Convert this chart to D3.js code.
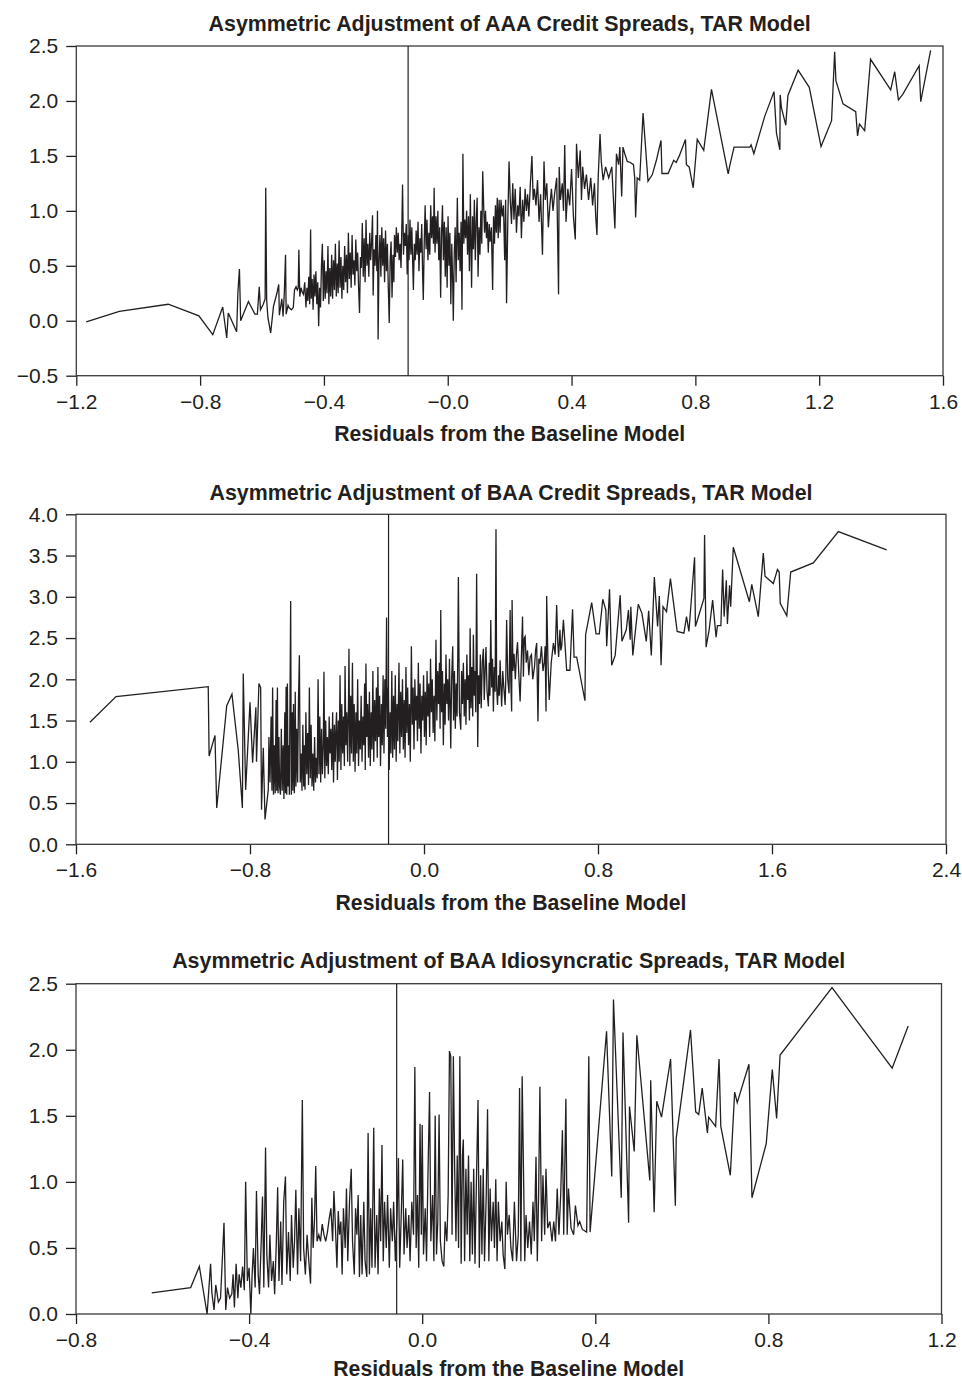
<!DOCTYPE html>
<html>
<head>
<meta charset="utf-8">
<script src="https://cdn.jsdelivr.net/npm/d3@7"></script>
<style>
  body { margin: 0; background: #fff; }
  svg text { font-family: "Liberation Sans", Arial, Helvetica, sans-serif; fill: #231f20; }
</style>
</head>
<body>
<div id="chart"></div>
<script>
const WIDTH = 962;
const HEIGHT = 1382;

// [residual, spread] pairs, sorted by residual
const aaaPoints = [
  [-1.168,-0.01],[-1.061,0.085],[-0.903,0.15],[-0.804,0.045],[-0.759,-0.127],[-0.727,0.125],[-0.714,-0.157],[-0.709,0.07],
  [-0.682,-0.10],[-0.678,0.255],[-0.673,0.47],[-0.669,0.0],[-0.644,0.175],[-0.623,0.06],[-0.615,0.06],[-0.609,0.31],
  [-0.605,0.10],[-0.596,0.15],[-0.590,0.20],[-0.588,1.21],[-0.585,0.19],[-0.581,0.03],[-0.572,-0.11],[-0.563,0.13],
  [-0.552,0.25],[-0.546,0.33],[-0.544,0.05],[-0.536,0.20],[-0.532,0.04],[-0.528,0.25],[-0.524,0.60],[-0.522,0.06],
  [-0.516,0.14],[-0.513,0.12],[-0.505,0.10],[-0.499,0.12],[-0.495,0.28],[-0.490,0.31],[-0.486,0.28],[-0.483,0.30],
  [-0.481,0.645],[-0.478,0.22],[-0.474,0.30],[-0.470,0.26],[-0.466,0.24],[-0.462,0.35],[-0.458,0.12],[-0.455,0.30],
  [-0.452,0.18],[-0.449,0.40],[-0.446,0.15],[-0.443,0.83],[-0.441,0.20],[-0.438,0.38],[-0.435,0.10],[-0.432,0.42],
  [-0.429,0.22],[-0.426,0.45],[-0.423,0.15],[-0.420,0.35],[-0.417,-0.05],[-0.414,0.30],[-0.411,0.12],[-0.408,0.50],
  [-0.405,0.70],[-0.402,0.18],[-0.399,0.55],[-0.396,0.20],[-0.393,0.45],[-0.390,0.25],[-0.387,0.68],[-0.384,0.15],
  [-0.381,0.48],[-0.378,0.22],[-0.375,0.60],[-0.372,0.20],[-0.369,0.55],[-0.366,0.28],[-0.363,0.70],[-0.360,0.22],
  [-0.357,0.52],[-0.354,0.25],[-0.351,0.73],[-0.348,0.30],[-0.345,0.58],[-0.342,0.20],[-0.339,0.50],[-0.336,0.28],
  [-0.333,0.68],[-0.330,0.35],[-0.327,0.60],[-0.324,0.25],[-0.321,0.80],[-0.318,0.38],[-0.315,0.62],[-0.312,0.30],
  [-0.309,0.78],[-0.306,0.42],[-0.303,0.55],[-0.300,0.32],[-0.297,0.74],[-0.294,0.45],[-0.291,0.62],[-0.288,0.30],
  [-0.285,0.07],[-0.282,0.58],[-0.279,0.48],[-0.276,0.89],[-0.273,0.40],[-0.270,0.75],[-0.267,0.35],[-0.264,0.92],
  [-0.261,0.50],[-0.258,0.70],[-0.255,0.40],[-0.252,0.80],[-0.249,0.55],[-0.246,0.72],[-0.243,0.96],[-0.241,0.23],
  [-0.238,0.65],[-0.235,0.50],[-0.232,0.78],[-0.229,0.45],[-0.227,1.00],[-0.225,-0.17],[-0.222,0.55],[-0.219,0.78],
  [-0.216,0.40],[-0.213,0.85],[-0.210,0.50],[-0.207,0.75],[-0.204,0.35],[-0.201,0.82],[-0.198,0.45],[-0.195,0.70],
  [-0.192,0.30],[-0.189,-0.02],[-0.186,0.55],[-0.183,0.72],[-0.180,0.21],[-0.177,0.60],[-0.174,0.35],[-0.172,0.78],
  [-0.169,0.58],[-0.166,0.85],[-0.163,0.62],[-0.160,0.80],[-0.157,0.55],[-0.154,0.70],[-0.151,0.48],[-0.148,0.90],
  [-0.146,1.24],[-0.143,0.60],[-0.140,0.80],[-0.137,0.68],[-0.134,0.88],[-0.131,0.42],[-0.128,0.78],[-0.125,0.55],
  [-0.122,0.92],[-0.119,0.60],[-0.116,0.85],[-0.113,0.50],[-0.111,0.28],[-0.108,0.70],[-0.105,0.55],[-0.102,0.82],
  [-0.099,0.60],[-0.096,0.90],[-0.093,0.45],[-0.090,0.75],[-0.087,0.62],[-0.084,0.88],[-0.081,0.40],[-0.079,0.19],
  [-0.076,0.70],[-0.073,1.05],[-0.070,0.65],[-0.067,0.92],[-0.064,0.55],[-0.061,0.80],[-0.058,0.60],[-0.055,1.05],
  [-0.052,0.75],[-0.049,0.95],[-0.046,0.70],[-0.044,1.21],[-0.041,0.62],[-0.038,0.95],[-0.035,0.70],[-0.032,1.00],
  [-0.029,0.55],[-0.026,0.85],[-0.023,0.21],[-0.020,0.80],[-0.017,1.05],[-0.014,0.55],[-0.011,0.90],[-0.008,0.40],
  [-0.005,0.85],[-0.002,0.30],[0.001,0.95],[0.004,0.50],[0.007,0.80],[0.010,0.15],[0.013,0.70],[0.016,0.35],
  [0.018,0.00],[0.021,0.60],[0.024,0.85],[0.027,0.35],[0.031,1.12],[0.034,0.55],[0.037,0.80],[0.040,0.45],
  [0.043,0.90],[0.046,0.10],[0.049,1.52],[0.052,0.70],[0.055,0.92],[0.058,0.75],[0.061,1.00],[0.064,0.60],
  [0.067,0.95],[0.070,0.45],[0.073,1.15],[0.077,0.30],[0.080,0.95],[0.083,0.65],[0.086,1.10],[0.089,0.55],
  [0.092,0.90],[0.095,1.12],[0.098,0.40],[0.101,0.85],[0.104,0.60],[0.107,1.00],[0.110,0.70],[0.113,1.36],
  [0.116,1.05],[0.119,0.80],[0.122,1.00],[0.125,0.75],[0.128,0.90],[0.131,0.62],[0.134,0.88],[0.137,0.72],
  [0.141,0.85],[0.145,0.28],[0.148,0.95],[0.151,0.70],[0.154,1.05],[0.157,0.80],[0.160,1.12],[0.163,0.75],
  [0.166,1.10],[0.169,0.80],[0.172,1.10],[0.176,0.95],[0.180,1.05],[0.184,0.55],[0.187,1.10],[0.190,0.16],
  [0.194,0.90],[0.198,1.45],[0.202,1.10],[0.206,0.88],[0.210,1.25],[0.214,0.92],[0.218,1.20],[0.222,0.80],
  [0.226,1.05],[0.230,0.95],[0.234,1.22],[0.238,0.75],[0.242,1.10],[0.246,0.90],[0.250,1.20],[0.254,1.00],
  [0.258,1.15],[0.262,0.95],[0.267,1.25],[0.272,1.50],[0.276,1.10],[0.280,1.20],[0.285,1.05],[0.290,1.28],
  [0.295,0.90],[0.300,1.15],[0.306,0.60],[0.311,1.45],[0.315,1.10],[0.320,1.25],[0.325,0.85],[0.330,1.05],
  [0.335,1.20],[0.340,1.00],[0.345,1.15],[0.352,1.30],[0.358,0.24],[0.360,1.40],[0.364,1.10],[0.370,1.25],
  [0.374,1.00],[0.378,1.60],[0.382,0.90],[0.388,1.20],[0.394,1.05],[0.400,1.38],[0.406,0.95],[0.412,0.74],
  [0.416,1.61],[0.422,1.30],[0.428,1.55],[0.432,1.10],[0.436,1.40],[0.442,1.20],[0.448,1.33],[0.455,1.10],
  [0.462,1.30],[0.468,1.05],[0.474,1.25],[0.478,0.95],[0.482,0.78],[0.486,1.30],[0.492,1.70],[0.496,1.45],
  [0.502,1.28],[0.510,1.40],[0.520,1.30],[0.530,1.40],[0.540,0.84],[0.545,1.52],[0.552,1.42],[0.556,1.58],
  [0.562,1.13],[0.566,1.58],[0.572,1.52],[0.580,1.45],[0.590,1.44],[0.600,1.42],[0.604,1.30],[0.607,0.94],
  [0.612,1.30],[0.620,1.28],[0.631,1.89],[0.647,1.27],[0.661,1.33],[0.674,1.46],[0.689,1.64],[0.692,1.34],
  [0.712,1.34],[0.730,1.46],[0.738,1.44],[0.748,1.50],[0.768,1.65],[0.771,1.42],[0.780,1.40],[0.793,1.21],
  [0.806,1.65],[0.827,1.55],[0.852,2.106],[0.906,1.336],[0.911,1.41],[0.925,1.58],[0.976,1.58],[0.980,1.60],
  [0.989,1.52],[1.024,1.86],[1.054,2.085],[1.062,1.706],[1.073,1.555],[1.074,2.055],[1.078,1.94],[1.092,1.78],
  [1.099,2.05],[1.132,2.28],[1.168,2.124],[1.206,1.585],[1.240,1.82],[1.250,2.448],[1.254,2.185],[1.277,1.973],
  [1.318,1.903],[1.324,1.682],[1.330,1.79],[1.347,1.73],[1.366,2.379],[1.431,2.10],[1.444,2.266],[1.456,2.01],
  [1.470,2.06],[1.523,2.32],[1.528,1.994],[1.560,2.46]
];

const baaPoints = [
  [-1.536,1.48],[-1.416,1.79],[-0.992,1.91],[-0.988,1.07],[-0.961,1.32],[-0.953,0.44],[-0.907,1.68],[-0.883,1.82],
  [-0.854,1.14],[-0.835,0.44],[-0.831,2.07],[-0.820,0.66],[-0.800,1.72],[-0.788,0.99],[-0.773,1.66],[-0.770,1.00],
  [-0.759,1.95],[-0.751,1.90],[-0.747,0.42],[-0.739,1.17],[-0.731,0.30],[-0.716,0.66],[-0.713,1.30],[-0.708,0.75],
  [-0.703,1.55],[-0.699,0.65],[-0.696,1.90],[-0.692,0.60],[-0.688,1.20],[-0.684,0.62],[-0.680,1.75],[-0.677,0.65],
  [-0.674,1.90],[-0.671,0.62],[-0.667,1.30],[-0.664,0.70],[-0.660,0.60],[-0.656,1.40],[-0.652,0.65],[-0.648,1.20],
  [-0.644,0.55],[-0.640,1.60],[-0.637,0.62],[-0.634,1.91],[-0.631,0.60],[-0.628,1.95],[-0.625,0.70],[-0.622,1.20],
  [-0.619,0.60],[-0.616,1.80],[-0.613,2.95],[-0.610,0.60],[-0.606,1.60],[-0.603,0.65],[-0.600,1.70],[-0.596,0.62],
  [-0.592,1.85],[-0.589,0.70],[-0.585,1.40],[-0.581,0.75],[-0.577,1.75],[-0.573,2.29],[-0.569,0.75],[-0.565,1.10],
  [-0.561,0.65],[-0.557,1.45],[-0.553,0.70],[-0.550,1.20],[-0.547,0.66],[-0.543,1.60],[-0.539,0.85],[-0.535,1.35],
  [-0.531,0.72],[-0.527,1.90],[-0.523,0.80],[-0.519,1.45],[-0.515,0.70],[-0.511,1.10],[-0.507,0.65],[-0.503,1.30],
  [-0.499,0.75],[-0.495,1.05],[-0.491,0.80],[-0.487,2.00],[-0.483,0.85],[-0.479,1.55],[-0.475,0.75],[-0.471,1.40],
  [-0.467,0.85],[-0.463,1.20],[-0.460,2.09],[-0.456,0.80],[-0.452,1.50],[-0.448,0.95],[-0.444,1.30],[-0.440,0.85],
  [-0.436,1.55],[-0.432,1.10],[-0.428,1.40],[-0.424,0.90],[-0.420,1.60],[-0.416,0.75],[-0.412,1.45],[-0.408,1.00],
  [-0.404,1.48],[-0.402,1.60],[-0.398,0.78],[-0.394,1.50],[-0.390,1.00],[-0.386,2.05],[-0.382,0.90],[-0.378,1.70],
  [-0.374,1.10],[-0.370,1.55],[-0.366,0.95],[-0.363,2.16],[-0.359,1.20],[-0.355,1.60],[-0.351,1.00],[-0.347,1.75],
  [-0.345,2.37],[-0.341,0.95],[-0.337,1.80],[-0.333,1.10],[-0.329,2.20],[-0.325,1.00],[-0.321,1.70],[-0.317,0.88],
  [-0.313,1.60],[-0.309,1.10],[-0.305,2.00],[-0.301,0.95],[-0.297,1.50],[-0.293,1.15],[-0.289,1.80],[-0.285,1.00],
  [-0.281,1.55],[-0.277,1.20],[-0.273,1.95],[-0.270,0.90],[-0.267,2.19],[-0.263,1.30],[-0.259,1.70],[-0.255,1.05],
  [-0.251,1.85],[-0.247,0.95],[-0.243,1.60],[-0.239,1.15],[-0.235,2.10],[-0.231,1.00],[-0.227,1.75],[-0.223,1.25],
  [-0.219,1.90],[-0.215,1.05],[-0.212,2.15],[-0.208,1.30],[-0.204,1.80],[-0.200,0.95],[-0.196,1.70],[-0.192,1.20],
  [-0.188,2.05],[-0.184,1.10],[-0.180,2.00],[-0.176,1.40],[-0.172,2.75],[-0.168,1.30],[-0.164,1.90],[-0.160,0.90],
  [-0.156,1.60],[-0.152,1.10],[-0.148,2.10],[-0.144,1.05],[-0.140,1.80],[-0.136,1.15],[-0.132,2.05],[-0.128,1.00],
  [-0.124,1.70],[-0.120,1.25],[-0.115,2.20],[-0.111,1.10],[-0.107,1.85],[-0.103,1.30],[-0.099,2.00],[-0.095,1.15],
  [-0.091,1.75],[-0.087,1.05],[-0.083,2.15],[-0.079,1.35],[-0.075,1.90],[-0.071,1.20],[-0.067,1.70],[-0.063,1.00],
  [-0.058,2.40],[-0.054,1.45],[-0.050,1.90],[-0.046,1.15],[-0.042,2.00],[-0.038,1.50],[-0.034,1.80],[-0.030,1.25],
  [-0.026,2.20],[-0.022,1.40],[-0.018,1.95],[-0.014,1.10],[-0.010,1.80],[-0.006,1.50],[-0.002,2.05],[0.002,1.30],
  [0.006,1.85],[0.010,1.20],[0.014,2.10],[0.018,1.55],[0.022,1.95],[0.026,1.30],[0.030,2.25],[0.034,1.60],
  [0.038,2.00],[0.042,1.35],[0.046,1.80],[0.050,1.25],[0.055,2.48],[0.059,1.50],[0.063,2.10],[0.067,1.70],
  [0.071,2.20],[0.074,1.40],[0.077,2.84],[0.081,1.60],[0.085,2.10],[0.089,1.20],[0.093,1.95],[0.097,1.45],
  [0.101,2.30],[0.105,1.70],[0.109,2.00],[0.113,1.50],[0.117,2.25],[0.123,1.16],[0.127,2.00],[0.132,2.40],
  [0.136,1.50],[0.140,2.10],[0.144,1.40],[0.148,1.95],[0.152,1.55],[0.155,2.20],[0.158,3.24],[0.163,1.60],
  [0.169,1.39],[0.173,2.10],[0.177,1.70],[0.181,2.20],[0.185,1.55],[0.189,2.00],[0.193,1.45],[0.197,2.30],
  [0.201,1.75],[0.205,2.05],[0.209,1.50],[0.212,2.62],[0.216,1.65],[0.220,2.15],[0.224,1.55],[0.227,2.54],
  [0.231,1.80],[0.235,2.10],[0.238,1.60],[0.242,3.28],[0.247,1.18],[0.251,2.05],[0.255,1.70],[0.259,2.30],
  [0.263,1.65],[0.268,2.20],[0.273,2.37],[0.277,1.75],[0.281,2.10],[0.285,2.39],[0.290,1.85],[0.296,1.67],
  [0.300,2.20],[0.303,1.80],[0.307,2.72],[0.311,1.90],[0.315,2.25],[0.319,1.61],[0.323,2.15],[0.327,1.85],
  [0.331,3.82],[0.334,1.90],[0.338,1.69],[0.343,2.05],[0.346,1.80],[0.350,2.23],[0.353,1.95],[0.357,1.67],
  [0.362,2.10],[0.367,1.90],[0.373,1.69],[0.376,2.00],[0.380,2.72],[0.385,2.00],[0.391,1.83],[0.396,2.84],
  [0.399,2.00],[0.403,1.61],[0.405,2.96],[0.409,2.10],[0.414,2.31],[0.420,2.00],[0.425,2.30],[0.430,2.45],
  [0.436,2.05],[0.442,1.73],[0.447,2.20],[0.453,2.76],[0.457,2.03],[0.461,2.50],[0.465,2.52],[0.470,2.20],
  [0.476,2.35],[0.482,2.05],[0.488,2.27],[0.494,2.30],[0.500,2.00],[0.508,2.15],[0.513,2.35],[0.518,2.44],
  [0.524,1.49],[0.528,2.25],[0.533,2.19],[0.540,2.40],[0.547,2.10],[0.553,2.21],[0.557,2.40],[0.561,1.61],
  [0.564,3.01],[0.570,2.20],[0.576,1.75],[0.585,2.20],[0.595,2.44],[0.603,2.30],[0.610,2.90],[0.615,2.45],
  [0.619,2.27],[0.625,2.60],[0.629,2.35],[0.633,2.40],[0.641,2.72],[0.656,2.11],[0.671,2.11],[0.683,2.85],
  [0.690,2.27],[0.702,2.27],[0.740,1.74],[0.743,2.54],[0.756,2.72],[0.771,2.93],[0.782,2.72],[0.791,2.55],
  [0.806,2.55],[0.822,2.97],[0.836,2.84],[0.840,2.40],[0.853,3.09],[0.863,2.17],[0.879,2.29],[0.902,3.02],
  [0.910,2.46],[0.930,2.60],[0.940,2.84],[0.948,2.48],[0.951,2.88],[0.960,2.29],[0.985,2.91],[1.002,2.80],
  [1.022,2.46],[1.033,2.83],[1.045,2.29],[1.059,3.24],[1.074,2.64],[1.082,3.01],[1.090,2.17],[1.099,2.88],
  [1.115,2.82],[1.133,3.22],[1.164,2.58],[1.195,2.56],[1.207,2.76],[1.218,2.58],[1.244,3.48],[1.248,2.64],
  [1.287,2.98],[1.290,3.75],[1.297,2.39],[1.311,2.60],[1.327,2.96],[1.343,2.51],[1.349,2.65],[1.365,2.65],
  [1.373,3.33],[1.380,2.76],[1.390,3.20],[1.395,2.67],[1.405,3.14],[1.410,2.88],[1.422,3.60],[1.496,2.94],
  [1.507,3.15],[1.537,2.76],[1.560,3.53],[1.568,3.25],[1.606,3.16],[1.625,3.33],[1.633,3.30],[1.638,2.92],
  [1.668,2.77],[1.686,3.30],[1.790,3.41],[1.905,3.79],[2.127,3.57]
];

const idioPoints = [
  [-0.625,0.16],[-0.535,0.20],[-0.515,0.36],[-0.497,0.00],[-0.489,0.38],[-0.486,0.16],[-0.481,0.03],[-0.477,0.22],
  [-0.471,0.09],[-0.466,0.12],[-0.458,0.69],[-0.454,0.03],[-0.450,0.20],[-0.445,0.12],[-0.440,0.15],[-0.437,0.30],
  [-0.434,0.05],[-0.430,0.38],[-0.426,0.12],[-0.423,0.30],[-0.419,0.20],[-0.415,0.36],[-0.411,0.18],[-0.408,1.00],
  [-0.404,0.25],[-0.400,0.35],[-0.396,0.00],[-0.393,0.30],[-0.390,0.50],[-0.386,0.20],[-0.383,0.93],[-0.379,0.30],
  [-0.376,0.15],[-0.372,0.55],[-0.369,0.89],[-0.366,0.20],[-0.362,1.26],[-0.359,0.45],[-0.355,0.20],[-0.352,0.60],
  [-0.348,0.25],[-0.344,0.40],[-0.341,0.15],[-0.337,0.55],[-0.334,0.96],[-0.331,0.25],[-0.327,0.70],[-0.324,0.22],
  [-0.320,0.85],[-0.316,1.04],[-0.313,0.30],[-0.309,0.62],[-0.305,0.25],[-0.302,0.75],[-0.298,0.35],[-0.295,0.55],
  [-0.292,0.94],[-0.288,0.30],[-0.285,0.80],[-0.281,0.40],[-0.277,1.62],[-0.274,0.50],[-0.270,0.30],[-0.266,0.60],
  [-0.262,0.40],[-0.258,0.23],[-0.255,0.88],[-0.252,0.50],[-0.249,0.70],[-0.246,1.12],[-0.243,0.55],[-0.239,0.60],
  [-0.235,0.55],[-0.231,0.68],[-0.227,0.60],[-0.223,0.55],[-0.219,0.62],[-0.215,0.72],[-0.211,0.80],[-0.207,0.55],
  [-0.204,0.93],[-0.201,0.70],[-0.197,0.35],[-0.194,0.78],[-0.191,0.60],[-0.188,0.70],[-0.185,0.30],[-0.182,0.80],
  [-0.178,0.50],[-0.175,0.95],[-0.172,0.40],[-0.168,0.85],[-0.164,1.10],[-0.161,0.55],[-0.157,0.30],[-0.154,0.80],
  [-0.151,0.60],[-0.148,0.90],[-0.145,0.28],[-0.142,0.75],[-0.139,0.30],[-0.135,0.85],[-0.132,0.40],[-0.128,0.28],
  [-0.125,1.37],[-0.122,0.30],[-0.119,0.80],[-0.116,0.35],[-0.112,1.41],[-0.109,0.35],[-0.105,0.75],[-0.102,0.30],
  [-0.099,0.95],[-0.096,0.55],[-0.093,1.28],[-0.090,0.40],[-0.087,0.85],[-0.083,0.50],[-0.080,0.90],[-0.076,0.35],
  [-0.073,0.80],[-0.069,0.55],[-0.066,0.85],[-0.062,0.40],[-0.058,0.75],[-0.055,1.18],[-0.052,0.35],[-0.048,0.80],
  [-0.045,1.17],[-0.042,0.45],[-0.038,0.80],[-0.035,0.50],[-0.031,0.75],[-0.028,0.40],[-0.024,0.85],[-0.020,0.60],
  [-0.017,1.87],[-0.014,0.50],[-0.011,0.90],[-0.008,0.35],[-0.005,1.44],[-0.002,0.60],[0.000,1.43],[0.003,0.45],
  [0.007,0.80],[0.010,0.40],[0.013,1.00],[0.017,1.68],[0.020,0.55],[0.024,0.90],[0.027,0.40],[0.030,1.50],
  [0.033,0.45],[0.036,0.70],[0.039,1.51],[0.042,0.55],[0.046,0.40],[0.050,0.36],[0.053,0.70],[0.057,0.55],
  [0.060,0.90],[0.063,1.99],[0.066,1.95],[0.069,0.60],[0.072,1.95],[0.075,1.10],[0.078,0.55],[0.081,1.20],
  [0.084,0.50],[0.087,1.95],[0.090,0.38],[0.093,1.20],[0.095,1.32],[0.098,0.40],[0.101,1.10],[0.104,0.60],
  [0.107,1.20],[0.110,0.40],[0.113,1.00],[0.116,0.45],[0.119,1.10],[0.122,0.38],[0.125,0.95],[0.129,1.62],
  [0.132,0.35],[0.135,1.05],[0.138,0.45],[0.141,1.10],[0.144,0.40],[0.148,0.90],[0.151,1.55],[0.154,0.40],
  [0.157,0.95],[0.160,0.55],[0.164,0.85],[0.167,0.50],[0.170,1.02],[0.173,0.40],[0.176,0.85],[0.180,0.55],
  [0.184,0.70],[0.187,0.45],[0.191,0.34],[0.194,1.00],[0.197,0.60],[0.201,0.75],[0.205,0.50],[0.209,0.40],
  [0.213,0.85],[0.218,0.40],[0.222,0.60],[0.225,1.71],[0.228,0.40],[0.231,1.80],[0.234,1.10],[0.237,0.40],
  [0.240,0.75],[0.244,0.50],[0.248,0.70],[0.252,0.45],[0.256,0.85],[0.259,0.55],[0.263,1.19],[0.266,0.40],
  [0.269,0.90],[0.272,1.72],[0.276,0.55],[0.279,1.05],[0.283,0.60],[0.286,1.10],[0.290,0.65],[0.295,0.70],
  [0.300,0.55],[0.304,0.70],[0.308,0.55],[0.312,0.95],[0.316,0.60],[0.320,0.90],[0.324,1.39],[0.327,0.60],
  [0.332,1.63],[0.335,0.60],[0.338,0.95],[0.344,0.65],[0.350,0.60],[0.354,0.82],[0.360,0.67],[0.364,0.70],
  [0.370,0.64],[0.380,0.62],[0.385,1.95],[0.388,0.62],[0.426,2.14],[0.438,1.04],[0.442,2.38],[0.460,0.88],
  [0.464,2.13],[0.477,0.69],[0.479,1.57],[0.490,1.23],[0.496,2.11],[0.526,1.01],[0.528,1.77],[0.536,0.77],
  [0.542,1.61],[0.553,1.49],[0.574,1.93],[0.585,0.82],[0.587,1.33],[0.620,2.15],[0.632,1.53],[0.639,1.51],
  [0.647,1.71],[0.659,1.37],[0.662,1.49],[0.678,1.42],[0.686,1.93],[0.690,1.42],[0.712,1.05],[0.722,1.68],
  [0.728,1.60],[0.755,1.89],[0.762,0.88],[0.795,1.29],[0.809,1.85],[0.819,1.48],[0.827,1.96],[0.947,2.47],
  [1.086,1.86],[1.123,2.18]
];

// TAR thresholds (vertical lines)
const thresholds = [-0.128, -0.163, -0.059];

const titles = [
  "Asymmetric Adjustment of AAA Credit Spreads, TAR Model",
  "Asymmetric Adjustment of BAA Credit Spreads, TAR Model",
  "Asymmetric Adjustment of BAA Idiosyncratic Spreads, TAR Model"
];
const X_LABEL = "Residuals from the Baseline Model";

const aaaXTicks = [-1.2, -0.8, -0.4, 0, 0.4, 0.8, 1.2, 1.6];
const aaaXTickLabels = ["\u22121.2", "\u22120.8", "\u22120.4", "\u22120.0", "0.4", "0.8", "1.2", "1.6"];
const aaaYTicks = [-0.5, 0, 0.5, 1, 1.5, 2, 2.5];
const baaXTicks = [-1.6, -0.8, 0, 0.8, 1.6, 2.4];
const baaYTicks = [0, 0.5, 1, 1.5, 2, 2.5, 3, 3.5, 4];
const idioXTicks = [-0.8, -0.4, 0, 0.4, 0.8, 1.2];
const idioYTicks = [0, 0.5, 1, 1.5, 2, 2.5];

const fmt = d3.format(".1f");

const panels = [
  { title: titles[0], points: aaaPoints, threshold: thresholds[0],
    xDomain: [-1.2, 1.6], yDomain: [-0.5, 2.5],
    xTicks: aaaXTicks, xLabels: aaaXTickLabels, yTicks: aaaYTicks,
    left: 76.3, right: 943, top: 46, bottom: 375.7, titleY: 31, labelY: 441 },
  { title: titles[1], points: baaPoints, threshold: thresholds[1],
    xDomain: [-1.6, 2.4], yDomain: [0, 4],
    xTicks: baaXTicks, xLabels: baaXTicks.map(fmt), yTicks: baaYTicks,
    left: 76, right: 946, top: 514.3, bottom: 844.3, titleY: 500, labelY: 910 },
  { title: titles[2], points: idioPoints, threshold: thresholds[2],
    xDomain: [-0.8, 1.2], yDomain: [0, 2.5],
    xTicks: idioXTicks, xLabels: idioXTicks.map(fmt), yTicks: idioYTicks,
    left: 76, right: 941.5, top: 983.7, bottom: 1314, titleY: 968, labelY: 1376 }
];

const INK = "#231f20";

const svg = d3.select("#chart")
  .append("svg")
  .attr("width", WIDTH)
  .attr("height", HEIGHT);

panels.forEach(p => {
  const xScale = d3.scaleLinear().domain(p.xDomain).range([p.left, p.right]);
  const yScale = d3.scaleLinear().domain(p.yDomain).range([p.bottom, p.top]);
  const cx = (p.left + p.right) / 2;
  const g = svg.append("g");

  // axes
  const xAxis = d3.axisBottom(xScale)
    .tickValues(p.xTicks)
    .tickFormat((d, i) => p.xLabels[i])
    .tickSize(10)
    .tickSizeOuter(0)
    .tickPadding(8);
  g.append("g")
    .attr("transform", `translate(0, ${p.bottom})`)
    .call(xAxis)
    .attr("font-size", 21)
    .attr("font-family", null)
    .style("color", INK)
    .call(a => a.select(".domain").remove())
    .call(a => a.selectAll(".tick line").attr("stroke-width", 1.3));

  const yAxis = d3.axisLeft(yScale)
    .tickValues(p.yTicks)
    .tickFormat(fmt)
    .tickSize(10)
    .tickSizeOuter(0)
    .tickPadding(8);
  g.append("g")
    .attr("transform", `translate(${p.left}, 0)`)
    .call(yAxis)
    .attr("font-size", 21)
    .attr("font-family", null)
    .style("color", INK)
    .call(a => a.select(".domain").remove())
    .call(a => a.selectAll(".tick line").attr("stroke-width", 1.3));

  // frame
  g.append("rect")
    .attr("x", p.left)
    .attr("y", p.top)
    .attr("width", p.right - p.left)
    .attr("height", p.bottom - p.top)
    .attr("fill", "none")
    .attr("stroke", "#3a3a3a")
    .attr("stroke-width", 1.3);

  // threshold line
  g.append("line")
    .attr("x1", xScale(p.threshold))
    .attr("x2", xScale(p.threshold))
    .attr("y1", p.top)
    .attr("y2", p.bottom)
    .attr("stroke", INK)
    .attr("stroke-width", 1.2);

  // data line
  g.append("path")
    .datum(p.points)
    .attr("d", d3.line().x(d => xScale(d[0])).y(d => yScale(d[1])))
    .attr("fill", "none")
    .attr("stroke", INK)
    .attr("stroke-width", 1.3);

  // title and x label
  g.append("text")
    .attr("x", cx)
    .attr("y", p.titleY)
    .style("font-size", "21.4px")
    .style("font-weight", "bold")
    .style("text-anchor", "middle")
    .text(p.title);

  g.append("text")
    .attr("x", cx)
    .attr("y", p.labelY)
    .style("font-size", "21.2px")
    .style("font-weight", "bold")
    .style("text-anchor", "middle")
    .text(X_LABEL);
});
</script>
</body>
</html>
